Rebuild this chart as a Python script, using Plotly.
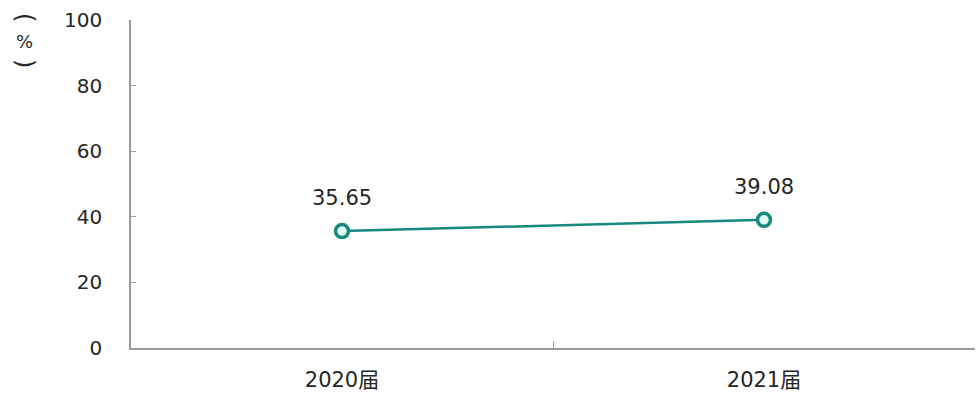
import plotly.graph_objects as go

# 数据
categories = ["2020届", "2021届"]
values = [35.65, 39.08]
value_labels = ["35.65", "39.08"]
y_ticks = [0, 20, 40, 60, 80, 100]

TEAL = "#178a7e"
FONT = "DejaVu Sans, Noto Sans CJK SC"
TEXT = "#262626"
AXIS = "#9a9a9a"

fig = go.Figure()
fig.add_trace(go.Scatter(
    x=categories, y=values,
    mode="lines+markers",
    line=dict(color=TEAL, width=2.5),
    marker=dict(size=13, color="#e4fbf8", line=dict(color=TEAL, width=3.5)),
    cliponaxis=False,
    showlegend=False,
))

# 数据标签
for cat, val, lab in zip(categories, values, value_labels):
    fig.add_annotation(x=cat, y=val, text=lab, showarrow=False, yshift=33,
                       font=dict(size=21, color=TEXT))

# 纵轴单位 （%） 竖排：括号旋转 90°
unit_parts = [("(", 90, 1.006, 24), ("%", 0, 0.933, 18), (")", 90, 0.866, 24)]
for txt, ang, ypos, size in unit_parts:
    fig.add_annotation(text=txt, textangle=ang, xref="paper", yref="paper",
                       x=-0.1256, y=ypos, xanchor="center", yanchor="middle",
                       showarrow=False, font=dict(size=size, color=TEXT))

fig.update_layout(
    width=978, height=397,
    margin=dict(l=131, r=3, t=20, b=49),
    paper_bgcolor="white", plot_bgcolor="white",
    font=dict(family=FONT, size=20, color=TEXT),
    xaxis=dict(
        type="category", range=[-0.5, 1.5], automargin=False,
        tickson="boundaries", ticks="inside", ticklen=7,
        tickcolor=AXIS, showline=True, linecolor=AXIS, linewidth=1.5,
        showgrid=False, ticklabelstandoff=12,
        tickfont=dict(size=21, color=TEXT),
    ),
    yaxis=dict(
        range=[0, 100], tickvals=y_ticks, automargin=False,
        ticks="inside", ticklen=5, tickcolor=AXIS,
        showline=True, linecolor=AXIS, linewidth=1.5,
        showgrid=False, zeroline=False, ticklabelstandoff=23,
        tickfont=dict(size=20, color=TEXT),
    ),
)

# 去掉页面默认边距，让图表贴齐窗口
fig.write_html("out.html", config={"displayModeBar": False},
               post_script="document.body.style.margin='0';")
